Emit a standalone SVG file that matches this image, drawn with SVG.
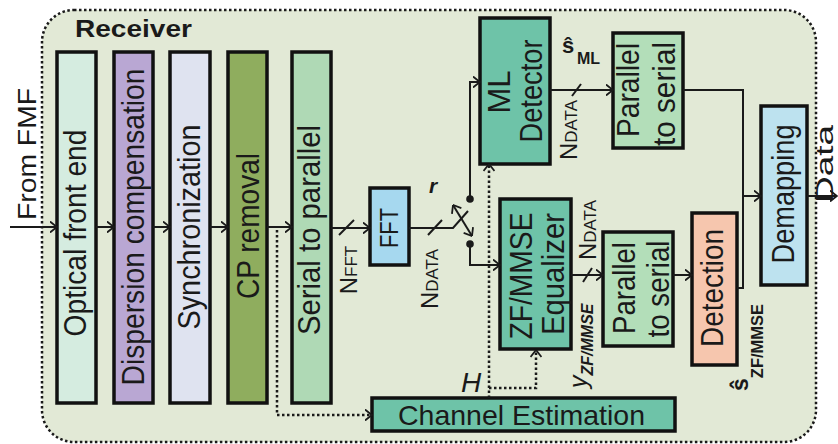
<svg xmlns="http://www.w3.org/2000/svg" width="838" height="444" viewBox="0 0 838 444">
  <defs>
    <marker id="arr" viewBox="0 0 8 12" refX="7.5" refY="6" markerWidth="8" markerHeight="12" markerUnits="userSpaceOnUse" orient="auto-start-reverse">
      <path d="M0.5,0.5 L7.5,6 L0.5,11.5" fill="none" stroke="#1a1a1a" stroke-width="1.8"/>
    </marker>
    <style>
      .blk { stroke: #111; stroke-width: 3.5; }
      .t { font-family: "Liberation Sans", Arial, sans-serif; fill: #1a1a1a; }
      .bt { font-size: 32px; text-anchor: middle; }
      .ln { fill: none; stroke: #1a1a1a; stroke-width: 2; }
      .dot { fill: none; stroke: #1a1a1a; stroke-width: 2.5; stroke-dasharray: 2.5 2.5; }
      .sl { stroke: #1a1a1a; stroke-width: 2; }
    </style>
  </defs>

  <rect width="838" height="444" fill="#ffffff"/>

  <!-- receiver frame -->
  <g id="receiver">
    <rect x="42" y="10" width="774" height="432" rx="32" ry="32" fill="#e2e9d6" stroke="#1a1a1a" stroke-width="2.5" stroke-dasharray="2.5 2.5"/>
    <text class="t" x="75" y="37" font-size="24" font-weight="bold" textLength="117" lengthAdjust="spacingAndGlyphs">Receiver</text>
  </g>

  <!-- input / output labels -->
  <g id="input">
    <text class="t" transform="translate(36,154) rotate(-90)" font-size="26" text-anchor="middle" textLength="132" lengthAdjust="spacingAndGlyphs">From FMF</text>
  </g>
  <g id="output">
    <text class="t" transform="translate(833,164) rotate(-90)" font-size="24" text-anchor="middle" textLength="78" lengthAdjust="spacingAndGlyphs">Data</text>
  </g>

  <!-- processing chain -->
  <g id="optical-front-end">
    <rect class="blk" x="57" y="52" width="39" height="351" fill="#d5ece0"/>
    <text class="t bt" transform="translate(86,233) rotate(-90)" textLength="207" lengthAdjust="spacingAndGlyphs">Optical front end</text>
  </g>
  <g id="dispersion-compensation">
    <rect class="blk" x="114" y="52" width="39" height="351" fill="#b9a7d3"/>
    <text class="t bt" transform="translate(144,227) rotate(-90)" textLength="317" lengthAdjust="spacingAndGlyphs">Dispersion compensation</text>
  </g>
  <g id="synchronization">
    <rect class="blk" x="170" y="52" width="40" height="351" fill="#dfe3f0"/>
    <text class="t bt" transform="translate(200,227) rotate(-90)" textLength="205" lengthAdjust="spacingAndGlyphs">Synchronization</text>
  </g>
  <g id="cp-removal">
    <rect class="blk" x="228" y="52" width="39" height="351" fill="#8fad5e"/>
    <text class="t bt" transform="translate(259,226) rotate(-90)" textLength="146" lengthAdjust="spacingAndGlyphs">CP removal</text>
  </g>
  <g id="serial-to-parallel">
    <rect class="blk" x="292" y="52" width="39" height="351" fill="#afd9b5"/>
    <text class="t bt" transform="translate(320,230) rotate(-90)" textLength="210" lengthAdjust="spacingAndGlyphs">Serial to parallel</text>
  </g>
  <g id="fft">
    <rect class="blk" x="370" y="188" width="39" height="77" fill="#a6d8ef"/>
    <text class="t" transform="translate(398,228) rotate(-90)" font-size="25" text-anchor="middle" textLength="40" lengthAdjust="spacingAndGlyphs">FFT</text>
  </g>
  <g id="ml-detector">
    <rect class="blk" x="480" y="18" width="70" height="146" fill="#6ec3a8"/>
    <text class="t" transform="translate(510,92) rotate(-90)" font-size="31" text-anchor="middle">ML</text>
    <text class="t" transform="translate(542,91) rotate(-90)" font-size="31" text-anchor="middle" textLength="103" lengthAdjust="spacingAndGlyphs">Detector</text>
  </g>
  <g id="zf-mmse-equalizer">
    <rect class="blk" x="500" y="199" width="71" height="150" fill="#6ec3a8"/>
    <text class="t" transform="translate(532,276) rotate(-90)" font-size="31" text-anchor="middle" textLength="127" lengthAdjust="spacingAndGlyphs">ZF/MMSE</text>
    <text class="t" transform="translate(564,274) rotate(-90)" font-size="31" text-anchor="middle" textLength="122" lengthAdjust="spacingAndGlyphs">Equalizer</text>
  </g>
  <g id="parallel-to-serial-ml">
    <rect class="blk" x="613" y="33" width="70" height="115" fill="#b3deb9"/>
    <text class="t" transform="translate(639,90) rotate(-90)" font-size="31" text-anchor="middle" textLength="94" lengthAdjust="spacingAndGlyphs">Parallel</text>
    <text class="t" transform="translate(675,94) rotate(-90)" font-size="31" text-anchor="middle" textLength="104" lengthAdjust="spacingAndGlyphs">to serial</text>
  </g>
  <g id="parallel-to-serial-zf">
    <rect class="blk" x="603" y="232" width="70" height="114" fill="#b3deb9"/>
    <text class="t" transform="translate(635,288) rotate(-90)" font-size="31" text-anchor="middle" textLength="92" lengthAdjust="spacingAndGlyphs">Parallel</text>
    <text class="t" transform="translate(669,289) rotate(-90)" font-size="31" text-anchor="middle" textLength="97" lengthAdjust="spacingAndGlyphs">to serial</text>
  </g>
  <g id="detection">
    <rect class="blk" x="692" y="213" width="45" height="152" fill="#f6c6ae"/>
    <text class="t" transform="translate(723,288) rotate(-90)" font-size="31" text-anchor="middle" textLength="118" lengthAdjust="spacingAndGlyphs">Detection</text>
  </g>
  <g id="demapping">
    <rect class="blk" x="761" y="106" width="46" height="179" fill="#bde2ef"/>
    <text class="t" transform="translate(794,194) rotate(-90)" font-size="31" text-anchor="middle" textLength="139" lengthAdjust="spacingAndGlyphs">Demapping</text>
  </g>
  <g id="channel-estimation">
    <rect class="blk" x="372" y="398" width="303" height="33" fill="#6ec3a8"/>
    <text class="t" x="398" y="425" font-size="28" textLength="247" lengthAdjust="spacingAndGlyphs">Channel Estimation</text>
  </g>

  <!-- connectors -->
  <g id="connectors">
    <path class="ln" d="M10,227 H57" marker-end="url(#arr)"/>
    <path class="ln" d="M96,227 H114" marker-end="url(#arr)"/>
    <path class="ln" d="M153,227 H170" marker-end="url(#arr)"/>
    <path class="ln" d="M210,227 H228" marker-end="url(#arr)"/>
    <path class="ln" d="M267,227 H292" marker-end="url(#arr)"/>
    <path class="ln" d="M331,228 H370" marker-end="url(#arr)"/>
    <line class="sl" x1="339" y1="235" x2="354" y2="220"/>

    <!-- FFT output and selector switch -->
    <path class="ln" d="M409,228 H453 L468,211"/>
    <line class="sl" x1="428" y1="235" x2="442" y2="220"/>
    <path class="ln" d="M453,205 L472,236" marker-start="url(#arr)" marker-end="url(#arr)"/>
    <circle cx="470" cy="199" r="3.8" fill="#1a1a1a"/>
    <circle cx="470" cy="244" r="3.8" fill="#1a1a1a"/>
    <path class="ln" d="M470,199 V82 H480" marker-end="url(#arr)"/>
    <path class="ln" d="M470,244 V265 H500" marker-end="url(#arr)"/>

    <!-- ML branch -->
    <path class="ln" d="M550,90 H613" marker-end="url(#arr)"/>
    <line class="sl" x1="572" y1="96" x2="581" y2="84"/>
    <path class="ln" d="M683,90 H743 V288 H737"/>
    <path class="ln" d="M743,196 H761" marker-end="url(#arr)"/>

    <!-- ZF/MMSE branch -->
    <path class="ln" d="M571,275 H603" marker-end="url(#arr)"/>
    <line class="sl" x1="583" y1="282" x2="592" y2="268"/>
    <path class="ln" d="M673,275 H692" marker-end="url(#arr)"/>

    <!-- output -->
    <path class="ln" d="M807,196 H837" marker-end="url(#arr)"/>

    <!-- channel estimate paths (dotted) -->
    <path class="dot" d="M277,230 V415 H372" marker-end="url(#arr)"/>
    <path class="dot" d="M489,398 V164" marker-end="url(#arr)"/>
    <path class="dot" d="M489,388 H536 V350" marker-end="url(#arr)"/>
  </g>

  <!-- signal labels -->
  <g id="labels">
    <text class="t" transform="translate(357,270) rotate(-90)" text-anchor="middle"><tspan font-size="24">N</tspan><tspan font-size="17">FFT</tspan></text>
    <text class="t" transform="translate(438,279) rotate(-90)" text-anchor="middle"><tspan font-size="24">N</tspan><tspan font-size="17">DATA</tspan></text>
    <text class="t" transform="translate(577,130) rotate(-90)" text-anchor="middle"><tspan font-size="24">N</tspan><tspan font-size="17">DATA</tspan></text>
    <text class="t" transform="translate(596,230) rotate(-90)" text-anchor="middle"><tspan font-size="24">N</tspan><tspan font-size="17">DATA</tspan></text>
    <text class="t" x="429" y="193" font-size="21" font-weight="bold" font-style="italic">r</text>
    <text class="t" x="562" y="53" font-size="22" font-weight="bold">ŝ</text>
    <text class="t" x="577" y="64" font-size="16" font-weight="bold">ML</text>
    <text class="t" transform="translate(587,388) rotate(-90)"><tspan font-size="25" font-style="italic">y</tspan><tspan font-size="16" font-weight="bold" font-style="italic" dy="6">ZF/MMSE</tspan></text>
    <text class="t" transform="translate(748,391) rotate(-90)"><tspan font-size="23" font-weight="bold">ŝ</tspan><tspan font-size="16.5" font-weight="bold" dy="15">ZF/MMSE</tspan></text>
    <text class="t" x="461" y="392" font-size="28" font-style="italic">H</text>
  </g>
</svg>
